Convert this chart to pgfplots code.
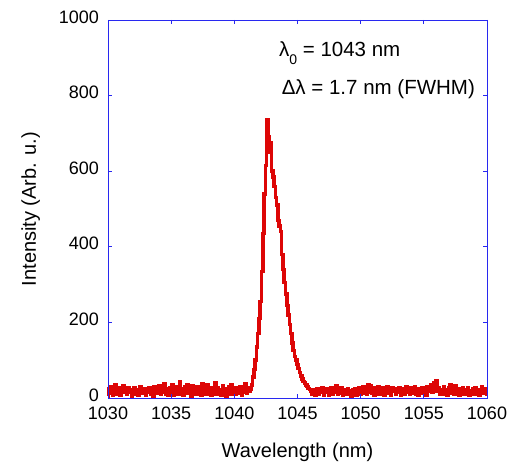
\documentclass[border=0pt]{standalone}
\usepackage{fontspec}
\setmainfont{Liberation Sans}
\usepackage{pgfplots}
\pgfplotsset{compat=1.18}
\definecolor{axisblue}{RGB}{40,40,240}
\definecolor{specred}{RGB}{221,6,6}
\begin{document}
\begin{tikzpicture}
\useasboundingbox (0,0) rectangle (509pt,463pt);
\begin{axis}[
  at={(108pt,65pt)}, anchor=south west,
  scale only axis, width=379pt, height=378pt,
  xmin=1030, xmax=1060, ymin=0, ymax=1000,
  xtick={1030,1035,...,1060}, ytick={0,200,...,1000},
  tick align=inside, major tick length=4pt,
  axis line style={draw=axisblue, line width=0.8pt},
  every tick/.style={axisblue, line width=0.8pt},
  tick label style={font=\fontsize{18}{18}\selectfont, inner sep=1pt},
  xticklabel style={yshift=-8pt},
  yticklabel style={xshift=-8pt, yshift=3pt},
  /pgf/number format/assume math mode=true,
  /pgf/number format/1000 sep={},
  xlabel={Wavelength (nm)}, ylabel={Intensity (Arb. u.)},
  label style={font=\fontsize{20}{20}\selectfont},
  xlabel style={at={(axis description cs:0.5,-0.1587)}, anchor=base},
  ylabel style={at={(axis description cs:-0.19,0.5)}, anchor=base},
  axis on top, clip=false,
]
\addplot[specred, line width=3.5pt, const plot mark mid] coordinates {
(1030.0,5)(1030.1,25)(1030.2,12)(1030.3,30)(1030.4,8)(1030.5,18)(1030.6,35)(1030.7,10)(1030.8,22)(1030.9,28)
(1031.0,6)(1031.1,20)(1031.2,32)(1031.3,14)(1031.4,24)(1031.5,9)(1031.6,27)(1031.7,15)(1031.8,21)(1031.9,4)
(1032.0,19)(1032.1,26)(1032.2,11)(1032.3,23)(1032.4,7)(1032.5,20)(1032.6,29)(1032.7,13)(1032.8,18)(1032.9,25)
(1033.0,8)(1033.1,22)(1033.2,16)(1033.3,27)(1033.4,10)(1033.5,24)(1033.6,5)(1033.7,30)(1033.8,17)(1033.9,21)
(1034.0,12)(1034.1,33)(1034.2,9)(1034.3,26)(1034.4,15)(1034.5,38)(1034.6,11)(1034.7,24)(1034.8,7)(1034.9,28)
(1035.0,14)(1035.1,35)(1035.2,6)(1035.3,22)(1035.4,18)(1035.5,31)(1035.6,10)(1035.7,42)(1035.8,16)(1035.9,25)
(1036.0,8)(1036.1,29)(1036.2,19)(1036.3,36)(1036.4,12)(1036.5,27)(1036.6,5)(1036.7,33)(1036.8,17)(1036.9,23)
(1037.0,9)(1037.1,30)(1037.2,14)(1037.3,26)(1037.4,7)(1037.5,38)(1037.6,15)(1037.7,22)(1037.8,11)(1037.9,34)
(1038.0,18)(1038.1,27)(1038.2,6)(1038.3,24)(1038.4,13)(1038.5,40)(1038.6,10)(1038.7,28)(1038.8,16)(1038.9,21)
(1039.0,8)(1039.1,32)(1039.2,14)(1039.3,25)(1039.4,5)(1039.5,19)(1039.6,29)(1039.7,11)(1039.8,36)(1039.9,17)
(1040.0,23)(1040.1,9)(1040.2,27)(1040.3,13)(1040.4,20)(1040.5,31)(1040.6,8)(1040.7,24)(1040.8,15)(1040.9,37)
(1041.0,12)(1041.1,26)(1041.2,18)(1041.3,22)(1041.4,35)(1041.5,55)(1041.6,75)(1041.7,100)(1041.8,135)(1041.9,170)
(1042.0,210)(1042.1,255)(1042.2,335)(1042.3,435)(1042.4,540)(1042.5,615)(1042.6,735)(1042.7,690)(1042.8,650)(1042.9,675)
(1043.0,600)(1043.1,585)(1043.2,560)(1043.3,530)(1043.4,510)(1043.5,470)(1043.6,455)(1043.7,440)(1043.8,380)(1043.9,340)
(1044.0,305)(1044.1,275)(1044.2,245)(1044.3,220)(1044.4,195)(1044.5,170)(1044.6,145)(1044.7,125)(1044.8,110)(1044.9,100)
(1045.0,88)(1045.1,78)(1045.2,68)(1045.3,58)(1045.4,50)(1045.5,44)(1045.6,40)(1045.7,35)(1045.8,30)(1045.9,25)
(1046.0,22)(1046.1,18)(1046.2,10)(1046.3,22)(1046.4,6)(1046.5,18)(1046.6,25)(1046.7,9)(1046.8,20)(1046.9,14)
(1047.0,27)(1047.1,8)(1047.2,21)(1047.3,16)(1047.4,24)(1047.5,7)(1047.6,19)(1047.7,28)(1047.8,11)(1047.9,23)
(1048.0,15)(1048.1,33)(1048.2,9)(1048.3,20)(1048.4,13)(1048.5,26)(1048.6,6)(1048.7,18)(1048.8,22)(1048.9,10)
(1049.0,25)(1049.1,14)(1049.2,19)(1049.3,5)(1049.4,21)(1049.5,12)(1049.6,24)(1049.7,8)(1049.8,17)(1049.9,27)
(1050.0,11)(1050.1,20)(1050.2,30)(1050.3,13)(1050.4,26)(1050.5,9)(1050.6,35)(1050.7,16)(1050.8,32)(1050.9,12)
(1051.0,28)(1051.1,7)(1051.2,24)(1051.3,18)(1051.4,31)(1051.5,10)(1051.6,22)(1051.7,15)(1051.8,27)(1051.9,6)
(1052.0,20)(1052.1,29)(1052.2,13)(1052.3,23)(1052.4,8)(1052.5,26)(1052.6,17)(1052.7,21)(1052.8,11)(1052.9,25)
(1053.0,14)(1053.1,28)(1053.2,7)(1053.3,19)(1053.4,24)(1053.5,10)(1053.6,30)(1053.7,15)(1053.8,22)(1053.9,9)
(1054.0,26)(1054.1,13)(1054.2,20)(1054.3,31)(1054.4,11)(1054.5,24)(1054.6,6)(1054.7,21)(1054.8,16)(1054.9,28)
(1055.0,12)(1055.1,25)(1055.2,8)(1055.3,30)(1055.4,17)(1055.5,22)(1055.6,35)(1055.7,14)(1055.8,40)(1055.9,20)
(1056.0,46)(1056.1,18)(1056.2,27)(1056.3,9)(1056.4,23)(1056.5,15)(1056.6,30)(1056.7,11)(1056.8,21)(1056.9,7)
(1057.0,26)(1057.1,35)(1057.2,13)(1057.3,24)(1057.4,10)(1057.5,32)(1057.6,16)(1057.7,20)(1057.8,6)(1057.9,25)
(1058.0,14)(1058.1,28)(1058.2,9)(1058.3,22)(1058.4,17)(1058.5,26)(1058.6,8)(1058.7,19)(1058.8,12)(1058.9,24)
(1059.0,10)(1059.1,27)(1059.2,15)(1059.3,21)(1059.4,7)(1059.5,23)(1059.6,29)(1059.7,13)(1059.8,18)(1059.9,25)
(1060.0,11)
};
\node[anchor=base west, inner sep=0pt, font=\fontsize{20.5}{20.5}\selectfont] at (rel axis cs:0.451,0.903) {λ\raisebox{-8pt}{\fontsize{14}{14}\selectfont 0}\ = 1043 nm};
\node[anchor=base west, inner sep=0pt, font=\fontsize{20.5}{20.5}\selectfont] at (rel axis cs:0.458,0.8016) {Δλ = 1.7 nm (FWHM)};
\end{axis}
\end{tikzpicture}
\end{document}
